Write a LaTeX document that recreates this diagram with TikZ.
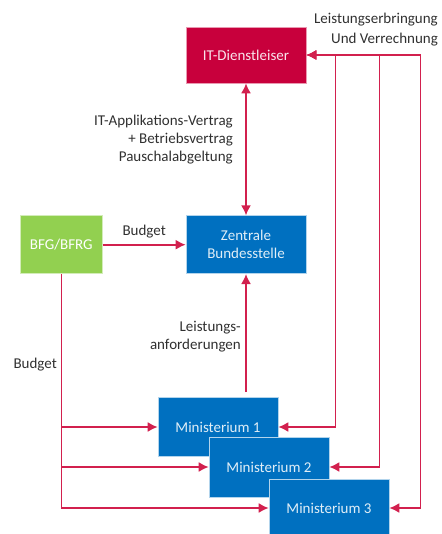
\documentclass[tikz,border=0pt]{standalone}
\usepackage{fontspec}
\setmainfont{Carlito}
\usetikzlibrary{positioning,calc,arrows.meta}
\definecolor{itred}{HTML}{C8003C}
\definecolor{linered}{HTML}{D2204E}
\definecolor{zbblue}{HTML}{0070C0}
\definecolor{bfggreen}{HTML}{92D050}
\definecolor{labelgray}{HTML}{303030}
\tikzset{standard edge/.style={line width=1.6pt,draw=linered,-{Latex[length=10pt,width=10pt]}},
 both edge/.style={standard edge,{Latex[length=10pt,width=10pt]}-{Latex[length=10pt,width=10pt]}},
 lbl/.style={text=labelgray,inner sep=0pt,align=right,font=\fontsize{15}{18}\selectfont}}
\begin{document}
\begin{tikzpicture}[x=1pt,y=-1pt,
 amt/.style={draw=white!70!zbblue,line width=0.7pt,text=white!88!zbblue,align=center,inner sep=0pt,
  minimum width=120pt,minimum height=58pt,font=\fontsize{15}{18}\selectfont}]
\useasboundingbox (0,0) rectangle (441,534);

\node[amt,fill=itred,draw=white!60!itred,text=white!90!itred,minimum height=56pt] (ITD) at (246,55) {IT-Dienstleiser};
\node[amt,fill=zbblue,below=132pt of ITD] (ZB) {Zentrale\\Bundesstelle};
\node[amt,fill=bfggreen,draw=white!60!bfggreen,text=white,minimum width=82pt,left=83pt of ZB] (BFG) {BFG/BFRG};

\node[amt,fill=zbblue,minimum height=59pt] (M1) at (218,427) {Ministerium 1};
\node[amt,fill=zbblue,minimum height=60pt] (M2) at ($(M1)+(51,40)$) {Ministerium 2};
\node[amt,fill=zbblue] (M3) at ($(M2)+(60,41)$) {Ministerium 3};

% Leistungserbringung
\coordinate (R1) at ($(M1.east)+(57,0)$);
\coordinate (R2) at ($(M2.east)+(50,0)$);
\coordinate (R3) at ($(M3.east)+(31,0)$);
\draw[both edge] (ITD.east) -| (R1) -- (M1.east);
\draw[both edge] (ITD.east) -| (R2) -- (M2.east);
\draw[both edge] (ITD.east) -| (R3) -- (M3.east);
\node[lbl,anchor=east,font=\fontsize{15}{20}\selectfont] (LE) at (438,30) {Leistungserbringung\\Und Verrechnung};

% Vertrag
\draw[both edge] (ITD) -- (ZB);
\node[lbl,anchor=east] (VT) at (233,140) {IT-Applikations-Vertrag\\+ Betriebsvertrag\\Pauschalabgeltung};

% Budget
\draw[standard edge] (BFG) -- node[lbl,above=6pt] (B1) {Budget} (ZB);
\draw[standard edge] (BFG.south) |- (M1.west);
\draw[standard edge] (BFG.south) |- (M2.west);
\draw[standard edge] (BFG.south) |- (M3.west);
\node[lbl,anchor=east] (B2) at (57,365) {Budget};

% Leistungsanforderungen
\draw[standard edge,shorten <=5pt] (ZB.south |- M1.north) -- (ZB.south);
\node[lbl,anchor=east] (LA) at (241,337) {Leistungs-\\anforderungen};
\end{tikzpicture}
\end{document}
